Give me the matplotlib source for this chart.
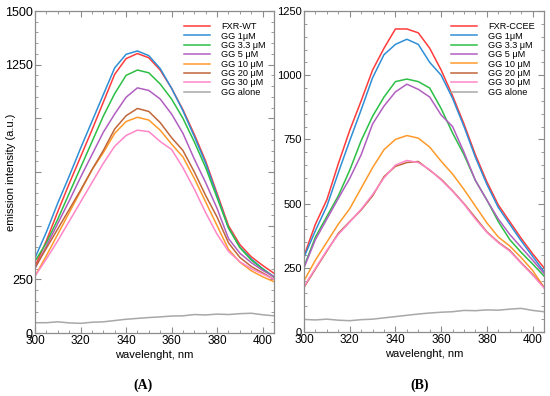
import matplotlib
matplotlib.use("Agg")
import matplotlib.pyplot as plt
from matplotlib.ticker import MultipleLocator, FixedLocator, FixedFormatter

plt.rcParams['font.family'] = ['Liberation Sans', 'DejaVu Sans']

wavelength = [300, 305, 310, 315, 320, 325, 330, 335, 340, 345, 350,
              355, 360, 365, 370, 375, 380, 385, 390, 395, 400, 405]

labels_A = ["FXR-WT", "GG 1μM", "GG 3.3 μM", "GG 5 μM", "GG 10 μM", "GG 20 μM", "GG 30 μM", "GG alone"]
labels_B = ["FXR-CCEE", "GG 1μM", "GG 3.3 μM", "GG 5 μM", "GG 10 μM", "GG 20 μM", "GG 30 μM", "GG alone"]
colors = ["#ff3b3b", "#2f8fd6", "#2dbf45", "#b05fc0", "#ff9a2a", "#c0673a", "#ff86c8", "#a8a8a8"]

# Panel A
A_fxr = [310, 430, 565, 695, 820, 945, 1075, 1205, 1278, 1302, 1282, 1225, 1140, 1040, 925, 800, 650, 500, 412, 355, 315, 278]
A_gg1 = [350, 470, 605, 730, 860, 985, 1110, 1235, 1298, 1314, 1292, 1232, 1140, 1035, 915, 790, 640, 490, 400, 345, 300, 262]
A_gg33 = [335, 420, 530, 650, 770, 890, 1010, 1115, 1200, 1225, 1212, 1160, 1090, 1000, 890, 770, 630, 490, 398, 340, 298, 260]
A_gg5 = [300, 405, 510, 615, 725, 830, 935, 1020, 1098, 1142, 1130, 1090, 1020, 930, 810, 700, 580, 440, 372, 328, 292, 262]
A_gg10 = [265, 360, 460, 560, 660, 760, 840, 930, 985, 1005, 992, 945, 880, 820, 720, 610, 500, 390, 330, 290, 262, 239]
A_gg20 = [305, 395, 485, 575, 665, 760, 850, 950, 1012, 1046, 1032, 980, 910, 850, 750, 640, 540, 420, 352, 310, 280, 250]
A_gg30 = [265, 345, 430, 520, 610, 700, 790, 870, 920, 945, 938, 892, 855, 770, 670, 560, 460, 380, 332, 300, 275, 250]
A_alone = [48, 48, 52, 47, 45, 50, 52, 58, 64, 68, 72, 75, 79, 80, 86, 84, 88, 86, 90, 92, 85, 80]

# Panel B
B_fxr = [296, 420, 515, 655, 785, 900, 1020, 1105, 1180, 1180, 1165, 1105, 1020, 920, 810, 690, 585, 495, 430, 365, 305, 250]
B_gg1 = [291, 395, 490, 620, 745, 865, 990, 1080, 1120, 1140, 1120, 1050, 1000, 910, 800, 680, 575, 485, 420, 355, 295, 235]
B_gg33 = [254, 370, 450, 530, 630, 745, 840, 915, 975, 985, 975, 950, 870, 775, 690, 590, 514, 430, 360, 310, 265, 218]
B_gg5 = [250, 360, 440, 520, 598, 690, 810, 880, 935, 965, 945, 915, 845, 800, 700, 590, 514, 440, 380, 330, 280, 228]
B_gg10 = [199, 280, 350, 420, 480, 560, 640, 710, 750, 765, 755, 720, 665, 615, 555, 490, 425, 370, 335, 290, 240, 174]
B_gg20 = [174, 245, 315, 384, 430, 475, 530, 605, 645, 660, 664, 630, 595, 550, 500, 445, 390, 350, 318, 270, 225, 174]
B_gg30 = [178, 248, 318, 380, 428, 478, 535, 600, 650, 668, 660, 632, 592, 548, 498, 440, 388, 348, 315, 268, 222, 172]
B_alone = [49, 47, 50, 46, 44, 48, 50, 55, 60, 65, 70, 74, 77, 79, 84, 83, 86, 85, 89, 92, 84, 79]

series_A = [A_fxr, A_gg1, A_gg33, A_gg5, A_gg10, A_gg20, A_gg30, A_alone]
series_B = [B_fxr, B_gg1, B_gg33, B_gg5, B_gg10, B_gg20, B_gg30, B_alone]

fig = plt.figure(figsize=(5.5, 3.96), dpi=100)
axA = fig.add_axes([35/550, 1-333/396, (274-35)/550, (333-11)/396])
axB = fig.add_axes([304/550, 1-332/396, (544-304)/550, (332-11)/396])

spine_col = "#8c8c8c"

def style(ax, ymax, ylabels, ysize):
    ax.set_xlim(300, 405)
    ax.set_ylim(0, ymax)
    ax.xaxis.set_major_locator(MultipleLocator(20))
    ax.xaxis.set_minor_locator(MultipleLocator(5))
    ax.yaxis.set_major_locator(FixedLocator(list(range(0, ymax + 1, 250))))
    ax.yaxis.set_major_formatter(FixedFormatter(ylabels))
    ax.yaxis.set_minor_locator(MultipleLocator(50))
    ax.tick_params(which='both', direction='in', top=True, right=True,
                   color=spine_col, pad=2)
    ax.tick_params(axis='x', labelsize=8.5, pad=1.5)
    ax.tick_params(axis='y', labelsize=ysize, pad=1.5)
    ax.tick_params(which='major', length=4, width=0.8)
    ax.tick_params(which='minor', length=2, width=0.6)
    for s in ax.spines.values():
        s.set_color(spine_col)
        s.set_linewidth(0.9)
    ax.set_xlabel("wavelenght, nm", fontsize=8, labelpad=2)

for ax, series, labels, anchor in [(axA, series_A, labels_A, (0.967, 0.965)),
                                   (axB, series_B, labels_B, (0.9625, 0.965))]:
    for vals, lab, c in zip(series, labels, colors):
        ax.plot(wavelength, vals, color=c, lw=1.1, label=lab)
    ax.legend(loc='upper right', frameon=False, fontsize=6.6, labelspacing=0.04,
              handlelength=2.8, handletextpad=1.25, borderaxespad=0.0, borderpad=0.0,
              bbox_to_anchor=anchor)

style(axA, 1500, ["0", "250", "", "", "", "1250", "1500"], 9)
style(axB, 1250, ["0", "250", "500", "750", "1000", "1250"], 8)
axA.set_ylabel("emission intensity (a.u.)", fontsize=8)
axA.yaxis.set_label_coords((16 - 35) / 239, 0.5)

fig.text(143/550, 1-385/396, "(A)", ha='center', va='center', fontsize=10,
         fontweight='bold', family='Liberation Serif')
fig.text(420/550, 1-385/396, "(B)", ha='center', va='center', fontsize=10,
         fontweight='bold', family='Liberation Serif')

fig.savefig("out.png", dpi=100)
